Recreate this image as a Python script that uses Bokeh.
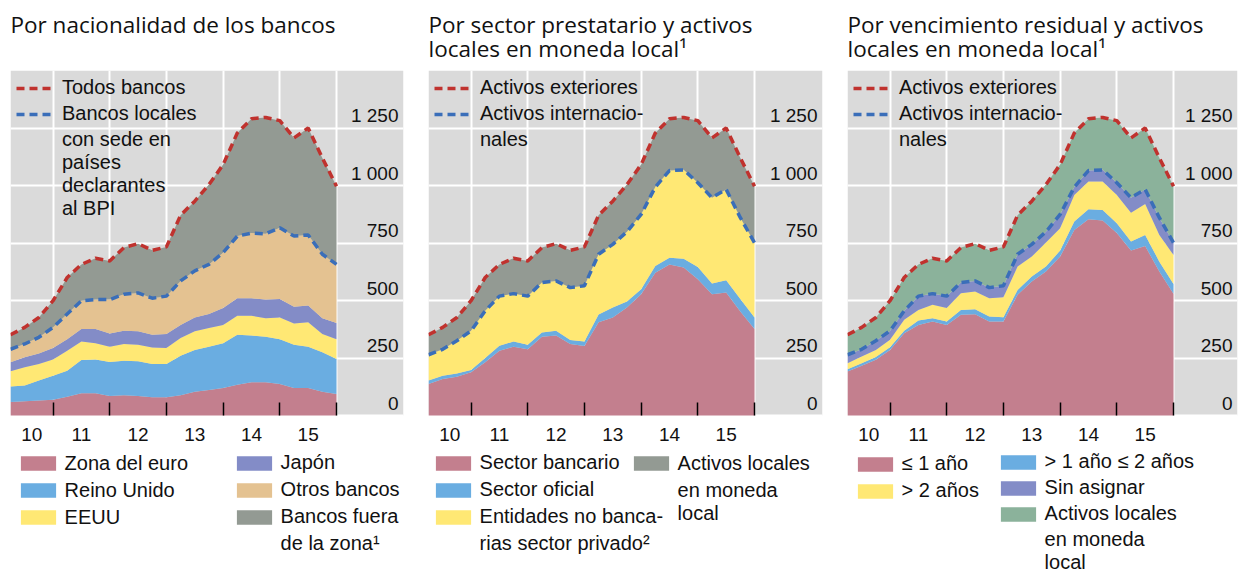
import numpy as np
from bokeh.plotting import figure
from bokeh.layouts import row
from bokeh.models import (ColumnDataSource, Range1d, FixedTicker, LinearAxis, Legend,
                          LegendItem, Grid, BoxAnnotation)
from bokeh.embed import file_html
from bokeh.resources import INLINE

# ---------------- data (billions USD, quarterly 2010 Q1 - 2015 Q4) ----------------
quarters = [f"{y}-Q{q}" for y in range(2010, 2016) for q in range(1, 5)]
year_labels = ["10", "11", "12", "13", "14", "15"]
y_ticks = [0, 250, 500, 750, 1000, 1250]

# Panel 1: by bank nationality
p1_names = ["Zona del euro", "Reino Unido", "EEUU", "Japón", "Otros bancos",
            "Bancos fuera\nde la zona¹"]
zona_euro = [59, 62, 65, 69, 82, 97, 97, 85, 88, 85, 79, 79, 88, 103, 111, 120, 134, 145, 145, 137, 120, 120, 103, 94]
reino_unido = [67, 68, 87, 104, 113, 144, 147, 148, 150, 151, 145, 145, 172, 182, 188, 194, 217, 203, 197, 195, 188, 179, 172, 152]
eeuu = [66, 80, 72, 71, 87, 81, 70, 66, 73, 72, 72, 69, 77, 81, 81, 80, 83, 86, 81, 94, 92, 106, 79, 86]
japon = [39, 43, 46, 49, 50, 54, 62, 58, 57, 58, 55, 61, 57, 60, 61, 73, 76, 76, 81, 81, 73, 73, 69, 70]
otros_bancos = [57, 58, 70, 90, 109, 123, 128, 147, 159, 167, 159, 165, 191, 203, 216, 241, 270, 283, 286, 309, 307, 307, 278, 255]
bancos_fuera = [63, 72, 86, 116, 159, 158, 180, 168, 203, 214, 208, 214, 286, 303, 347, 383, 448, 497, 506, 466, 427, 465, 419, 340]

# Panel 2: by borrowing sector
p2_names = ["Sector bancario", "Sector oficial", "Entidades no banca-\nrias sector privado²",
            "Activos locales\nen moneda\nlocal"]
sector_bancario = [137, 159, 169, 188, 231, 282, 299, 288, 342, 348, 311, 302, 405, 426, 470, 527, 621, 657, 643, 592, 527, 535, 452, 376]
sector_oficial = [15, 14, 14, 10, 19, 21, 23, 20, 19, 20, 17, 20, 34, 44, 26, 22, 29, 29, 38, 54, 47, 53, 54, 50]
no_bancarias = [112, 115, 142, 170, 205, 216, 208, 211, 217, 217, 228, 242, 262, 274, 303, 325, 343, 379, 387, 366, 373, 395, 354, 325]
activos_locales = [87, 95, 101, 131, 145, 138, 154, 153, 152, 162, 162, 169, 170, 188, 205, 217, 235, 225, 228, 270, 260, 267, 260, 246]

# Panel 3: by residual maturity
p3_names = ["≤ 1 año", "> 1 año ≤ 2 años", "> 2 años", "Sin asignar",
            "Activos locales\nen moneda\nlocal"]
hasta_1 = [191, 216, 242, 285, 358, 394, 409, 394, 438, 440, 409, 409, 525, 583, 626, 691, 807, 853, 848, 793, 717, 737, 626, 529]
de_1_a_2 = [10, 11, 12, 12, 11, 19, 14, 15, 21, 22, 21, 18, 21, 21, 22, 26, 36, 44, 46, 43, 39, 48, 43, 43]
mas_2 = [26, 29, 31, 32, 47, 46, 58, 58, 73, 77, 80, 87, 102, 87, 104, 97, 116, 120, 123, 123, 126, 135, 116, 126]
sin_asignar = [37, 32, 40, 39, 39, 60, 49, 52, 46, 46, 46, 50, 53, 53, 47, 60, 34, 48, 51, 53, 65, 63, 75, 53]

# ---------------- style / layout ----------------
PINK, BLUE, YELLOW, PURPLE = "#C37F8E", "#6AADE1", "#FFE874", "#838CC7"
TAN, GREY, GREEN = "#E4C291", "#939A93", "#8BB29B"
RED_LINE, BLUE_LINE = "#C0322E", "#3A6EB9"
BG = "#DADADA"
TXT = "#111111"
FONT = "Liberation Sans"
TITLE_FONT = "Open Sans"
PX_PER_YEAR = 56.7
FIG_H = 572
FRAME_TOP = 70          # px from figure top
ZERO_PX = 415           # px position of value 0
Y_MAX = 1500
UNITS_PER_PX = Y_MAX / (ZERO_PX - FRAME_TOP)
Y_MIN = -(FIG_H - ZERO_PX) * UNITS_PER_PX
LINE_H = 22.3           # legend text line height (px)
LEG_ROW1 = 465          # centre of first bottom-legend row (px from top)

X = [int(q[:4]) + int(q[-1]) / 4 for q in quarters]


def split_items(label, renderer):
    """First line carries the glyph; continuation lines are a glyph-less item."""
    lines = label.split("\n")
    items = [LegendItem(label=lines[0], renderers=[renderer])]
    if len(lines) > 1:
        items.append(LegendItem(label="\n".join(lines[1:]), renderers=[]))
    return items, [1] + ([len(lines) - 1] if len(lines) > 1 else [])


def make_panel(title, width, frame_w, lb, rb, names, series, colors,
               sub_count, line_labels, legend_cols):
    x0 = X[0]
    x1 = x0 + frame_w / PX_PER_YEAR
    p = figure(width=width, height=FIG_H, x_range=Range1d(x0, x1), y_range=Range1d(Y_MIN, Y_MAX),
               output_backend="svg", toolbar_location=None,
               min_border_left=lb, min_border_right=rb, min_border_top=FRAME_TOP,
               min_border_bottom=0, x_axis_type=None, y_axis_type=None,
               outline_line_color=None, background_fill_color="white",
               border_fill_color="white")
    if "\n" not in title:
        title = title + "\n "
    p.title.text = title
    p.title.text_font = TITLE_FONT
    p.title.text_font_size = "22.5px"
    p.title.text_font_style = "normal"
    p.title.text_line_height = 0.75
    p.title.text_color = TXT
    p.title.align = "left"
    p.title.standoff = 14

    # grey plotting area above zero
    p.add_layout(BoxAnnotation(bottom=0, fill_color=BG, fill_alpha=1, line_color=None,
                               level="underlay"))

    first_year = int(quarters[0][:4])
    last_year = int(quarters[-1][:4])
    boundaries = list(range(first_year + 1, last_year + 2))
    p.add_layout(Grid(dimension=0, ticker=FixedTicker(ticks=boundaries), cross_bounds=(0, Y_MAX),
                      grid_line_color="white", grid_line_width=2))
    p.add_layout(Grid(dimension=1, ticker=FixedTicker(ticks=y_ticks),
                      grid_line_color="white", grid_line_width=2))

    # stacked areas
    keys = [f"s{i}" for i in range(len(series))]
    src = ColumnDataSource(dict(x=X, **{k: v for k, v in zip(keys, series)}))
    areas = p.varea_stack(stackers=keys, x="x", color=colors, source=src)

    cum = np.cumsum(np.array(series, dtype=float), axis=0)
    total = cum[-1]
    sub = cum[sub_count - 1]
    r_sub = p.line(X, sub, line_color=BLUE_LINE, line_width=3.5, line_dash="8 5")
    r_tot = p.line(X, total, line_color=RED_LINE, line_width=3.5, line_dash="8 5")

    # x axis at zero: year labels at mid-year, inward black ticks at year boundaries
    mids, overrides = [], {}
    for lab in year_labels:
        yr = 2000 + int(lab)
        left = max(yr, x0)
        m = (left + yr + 1) / 2
        mids.append(m)
        overrides[m] = lab
    xa = LinearAxis(fixed_location=0, ticker=FixedTicker(ticks=mids, minor_ticks=boundaries),
                    major_label_overrides=overrides, axis_line_color=None,
                    major_tick_line_color=None, minor_tick_in=13, minor_tick_out=0,
                    minor_tick_line_color="black", minor_tick_line_width=1.5,
                    major_label_standoff=6, major_label_text_font=FONT,
                    major_label_text_font_size="19px", major_label_text_color=TXT)
    p.add_layout(xa, "below")

    # y axis labels, inside the frame at the right, just above grid lines
    d = 12.3 * UNITS_PER_PX
    p.extra_y_ranges = {"ylab": Range1d(Y_MIN - d, Y_MAX - d)}
    ya = LinearAxis(y_range_name="ylab", fixed_location=x1,
                    ticker=FixedTicker(ticks=y_ticks),
                    major_label_overrides={v: f"{v:,}".replace(",", " ") for v in y_ticks},
                    axis_line_color=None, major_tick_line_color=None, minor_tick_line_color=None,
                    major_tick_out=0, major_tick_in=0, major_label_standoff=5,
                    major_label_text_font=FONT, major_label_text_font_size="19px",
                    major_label_text_color=TXT)
    p.add_layout(ya, "left")

    common = dict(background_fill_alpha=0, border_line_color=None, padding=0,
                  label_height=18, label_text_font=FONT, label_text_font_size="20px",
                  label_text_color=TXT)

    # in-plot line legend
    items = [LegendItem(label=line_labels[0], renderers=[r_tot])]
    items += split_items(line_labels[1], r_sub)[0]
    leg = Legend(items=items, location="top_left", margin=6, spacing=3,
                 glyph_width=35, glyph_height=18, label_standoff=11, **common)
    p.add_layout(leg)

    # bottom legends (columns), inside the extended frame below the data area
    top_px = LEG_ROW1 - LINE_H / 2
    for col_x, sp, idxs in legend_cols:
        items, nl = [], []
        for i in idxs:
            it, n = split_items(names[i], areas[i])
            items += it
            nl += n
        h = sum(LINE_H * n for n in nl) + sp * (len(nl) - 1)
        vy = (FIG_H - top_px) - h
        lg = Legend(items=items, location=(col_x - 5.4, vy), margin=0, spacing=sp,
                    glyph_width=44, glyph_height=18, label_standoff=5, **common)
        p.add_layout(lg)
    return p


p1 = make_panel("Por nacionalidad de los bancos", 415, 393, 10, 12, p1_names,
                [zona_euro, reino_unido, eeuu, japon, otros_bancos, bancos_fuera],
                [PINK, BLUE, YELLOW, PURPLE, TAN, GREY], 5,
                ["Todos bancos", "Bancos locales\ncon sede en\npaíses\ndeclarantes\nal BPI"],
                [(11, 4, [0, 1, 2]), (227, 4, [3, 4, 5])])

p2 = make_panel("Por sector prestatario y activos\nlocales en moneda local¹", 419, 394, 13, 12,
                p2_names, [sector_bancario, sector_oficial, no_bancarias, activos_locales],
                [PINK, BLUE, YELLOW, GREY], 3,
                ["Activos exteriores", "Activos internacio-\nnales"],
                [(8, 4, [0, 1, 2]), (206, 4, [3])])

p3 = make_panel("Por vencimiento residual y activos\nlocales en moneda local¹", 405, 390, 13, 2,
                p3_names, [hasta_1, de_1_a_2, mas_2, sin_asignar, activos_locales],
                [PINK, BLUE, YELLOW, PURPLE, GREEN], 4,
                ["Activos exteriores", "Activos internacio-\nnales"],
                [(11, 4, [0, 2]), (154, 3, [1, 3, 4])])

layout = row(p1, p2, p3, spacing=0)
open("out.html", "w").write(file_html(layout, INLINE))
